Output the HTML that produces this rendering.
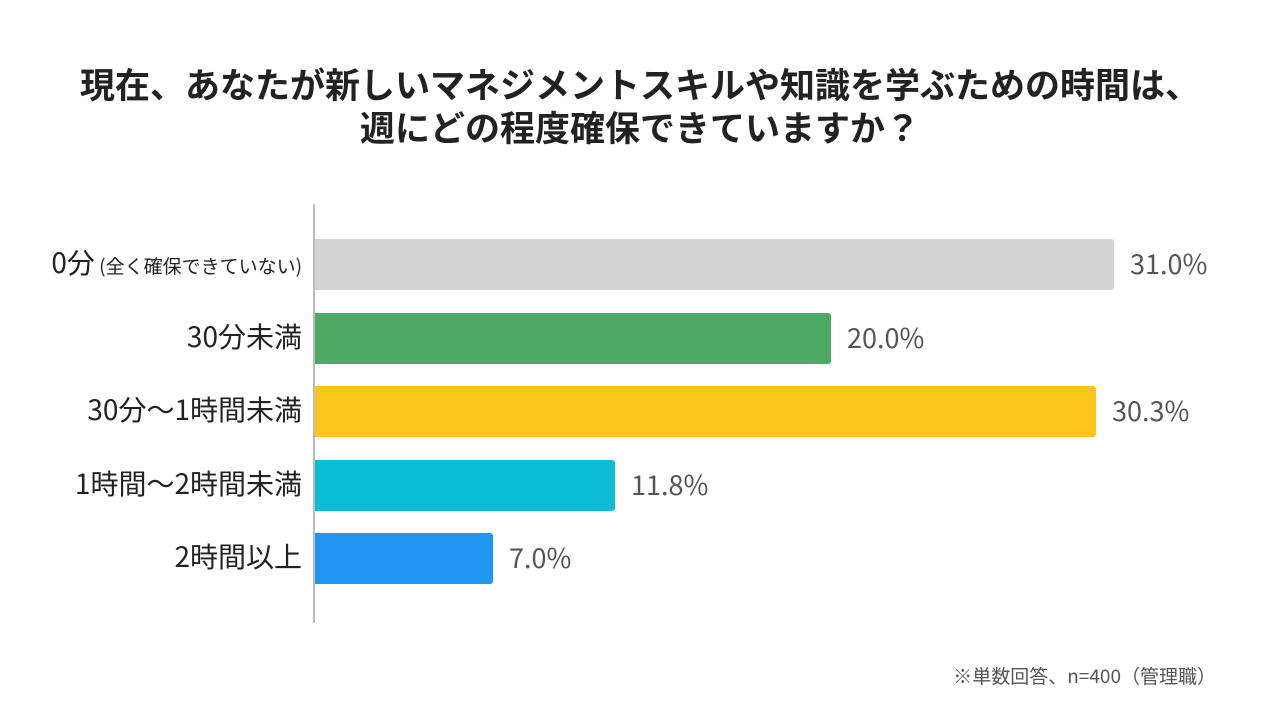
<!DOCTYPE html>
<html><head><meta charset="utf-8"><style>
body{margin:0;width:1280px;height:720px;background:#fff;position:relative;overflow:hidden;font-family:"Noto Sans CJK JP","Liberation Sans",sans-serif;color:#222}
.t{position:absolute;left:0;width:1280px;text-align:center;font-weight:bold;font-size:35px;line-height:43px;top:62px;color:#222}
.ax{position:absolute;left:313px;top:204px;width:2px;height:419px;background:#bbb}
.bar{position:absolute;left:315px;height:51px;border-radius:0 3px 3px 0}
.lb{position:absolute;right:978px;font-size:28px;line-height:51px;white-space:nowrap;color:#222;margin-top:-2px}
.lb small{font-size:19px}
.v{position:absolute;font-size:27px;line-height:51px;color:#555;margin-top:-2px}
.n{position:absolute;right:64px;top:662px;font-size:19px;color:#555}
</style></head><body>
<div class="t">現在、あなたが新しいマネジメントスキルや知識を学ぶための時間は、<br>週にどの程度確保できていますか？</div>
<div class="ax"></div>
<div class="bar" style="top:239px;width:799px;background:#d3d3d3"></div>
<div class="lb" style="top:239px">0分<small> (全く確保できていない)</small></div>
<div class="v" style="top:239px;left:1130px">31.0%</div>
<div class="bar" style="top:313px;width:516px;background:#4caa64"></div>
<div class="lb" style="top:313px">30分未満</div>
<div class="v" style="top:313px;left:847px">20.0%</div>
<div class="bar" style="top:386px;width:781px;background:#fbc51a"></div>
<div class="lb" style="top:386px">30分～1時間未満</div>
<div class="v" style="top:386px;left:1112px">30.3%</div>
<div class="bar" style="top:460px;width:300px;background:#0bbcd4"></div>
<div class="lb" style="top:460px">1時間～2時間未満</div>
<div class="v" style="top:460px;left:631px">11.8%</div>
<div class="bar" style="top:533px;width:178px;background:#2196f3"></div>
<div class="lb" style="top:533px">2時間以上</div>
<div class="v" style="top:533px;left:509px">7.0%</div>
<div class="n">※単数回答、n=400（管理職）</div>
</body></html>
